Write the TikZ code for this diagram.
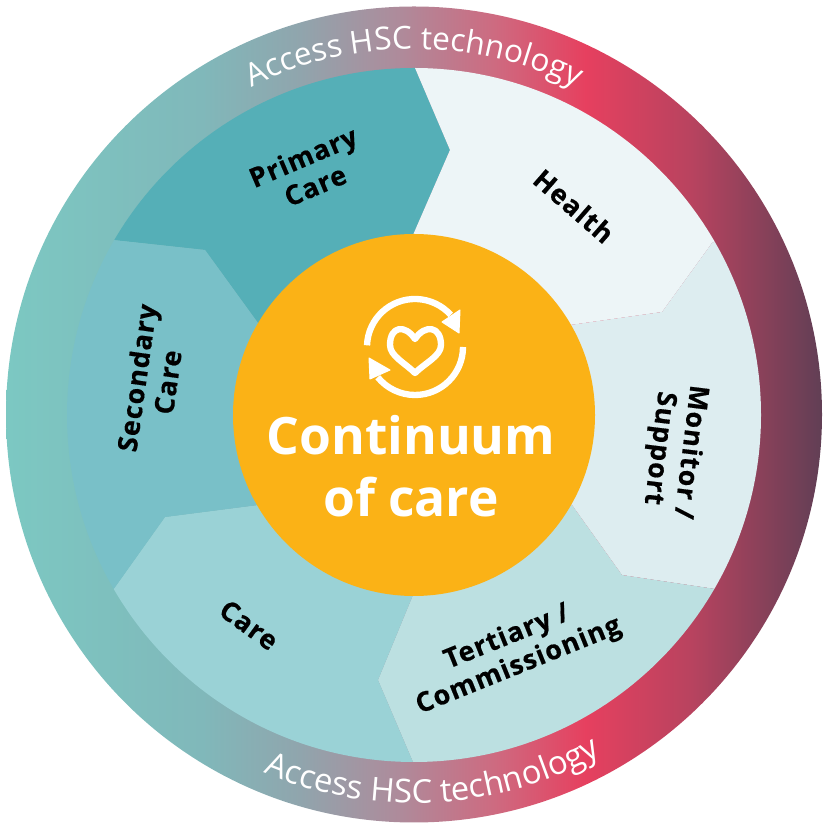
\documentclass[tikz,border=0pt]{standalone}
\usepackage{fontspec}
\setmainfont{Open Sans}
\newfontfamily\segfont[LetterSpace=4,BoldFeatures={FakeBold=.5}]{Open Sans}
\usetikzlibrary{decorations.text}
\definecolor{primarycol}{HTML}{55AFB7}
\definecolor{healthcol}{HTML}{EDF5F7}
\definecolor{monitorcol}{HTML}{DDEDF0}
\definecolor{tertiarycol}{HTML}{BCE0E1}
\definecolor{carecol}{HTML}{9AD2D6}
\definecolor{secondarycol}{HTML}{79C0C8}
\definecolor{centrecol}{HTML}{FBB216}
\definecolor{ringa}{HTML}{7CC8C2}
\definecolor{ringb}{HTML}{80B8BA}
\definecolor{ringc}{HTML}{90A5AD}
\definecolor{ringd}{HTML}{AE8B9B}
\definecolor{ringe}{HTML}{CE6A80}
\definecolor{ringf}{HTML}{E6405F}
\definecolor{ringg}{HTML}{B8435F}
\definecolor{ringh}{HTML}{613F55}
\pgfdeclarehorizontalshading{accessring}{100bp}{
 color(0bp)=(ringa);color(25bp)=(ringa);color(37bp)=(ringb);
 color(43bp)=(ringc);color(49bp)=(ringd);color(55bp)=(ringe);
 color(60.5bp)=(ringf);color(67bp)=(ringg);color(75bp)=(ringh);color(100bp)=(ringh)}
\begin{document}
\begin{tikzpicture}[x=.3mm,y=.3mm,
 seglabel/.style={font=\fontsize{23}{26.5}\selectfont\segfont\bfseries,align=center,text=black},
 icon/.style={draw=white,line width=1.9mm,line join=round},
 tip/.style={fill=white,draw=white,line width=.3mm,line join=round},
 ringtext/.style={decorate,decoration={text along path,text align=center,
  text={|\fontsize{#1}{30}\selectfont\color{white}|Access HSC technology}}}]
\useasboundingbox (0,0) rectangle (828,828);

% outer ring
\shade[shading=accessring] (414,413.5) circle (408);

% segments
\begin{scope}
\clip (414,413) circle (347);
\fill[primarycol] (113,588)--(23,640)--(23,860)--(415,860)--(415,760)--(450,678)--(413,593)--(414,413)--(258,505)--(205,578)--cycle;
\fill[healthcol] (415,860)--(415,760)--(450,678)--(413,593)--(414,413)--(570,503)--(662,516)--(712,585)--(801,636)--(801,860)--cycle;
\fill[monitorcol] (712,585)--(801,636)--(830,400)--(814,186)--(722,238)--(622,253)--(572,323)--(414,413)--(570,503)--(662,516)--cycle;
\fill[tertiarycol] (722,238)--(814,186)--(814,-20)--(413,-20)--(413,66)--(378,148)--(413,233)--(414,413)--(572,323)--(622,253)--cycle;
\fill[carecol] (413,-20)--(413,66)--(378,148)--(413,233)--(414,413)--(258,323)--(165,311)--(113,238)--(23,186)--(23,-20)--cycle;
\fill[secondarycol] (113,238)--(23,186)--(0,413)--(23,640)--(113,588)--(205,578)--(258,505)--(414,413)--(258,323)--(165,311)--cycle;
\end{scope}

% centre
\node[circle,fill=centrecol,minimum size=108.6mm,inner sep=0pt] (centre) at (414,413) {};
\node[font=\fontsize{44}{53}\selectfont\bfseries,align=center,text=white] (centretext) at (411,362) {Continuum\\of care};

% icon
\draw[icon] (415,481)++(178:48) arc[start angle=178,end angle=42,radius=48];
\draw[icon] (415,481)++(0:48) arc[start angle=0,end angle=-141,radius=48];
\fill[tip] (442,506)--(460,518)--(459,495)--cycle;
\fill[tip] (369,470)--(390,458)--(370,449)--cycle;
\draw[icon] (415,489) .. controls (405,504) and (390,502) .. (390,483) .. controls (390,472) and (405,465) .. (415,455) .. controls (425,465) and (441,472) .. (441,483) .. controls (441,502) and (425,504) .. (415,489) -- cycle;

% ring texts
\path[ringtext=27] (414,413)++(130:366) arc[start angle=130,end angle=50,radius=366];
\path[ringtext=28] (414,413)++(238:388) arc[start angle=238,end angle=308,radius=388];

% labels
\node[seglabel,rotate=23] (primary) at (309,657) {Primary\\Care};
\node[seglabel,rotate=-41] (health) at (574,622) {Health};
\node[seglabel,rotate=-97] (monitor) at (674,378) {Monitor /\\Support};
\node[seglabel,rotate=-36] (care) at (249,203) {Care};
\node[seglabel,rotate=22] (tertiary) at (513,176) {Tertiary /\\Commissioning};
\node[seglabel,rotate=82] (secondary) at (152,448) {Secondary\\Care};
\end{tikzpicture}
\end{document}
